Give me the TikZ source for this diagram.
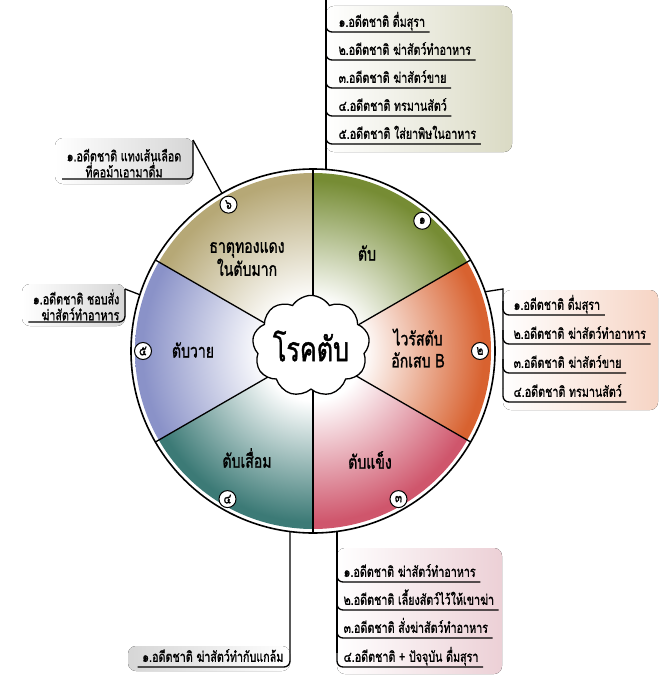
\documentclass[tikz,border=0pt]{standalone}
\usepackage{fontspec}
\newfontfamily\thaifont[Script=Thai,FakeStretch=0.74,FakeBold=1.2]{Loma}
\usetikzlibrary{calc,shapes.symbols}

\definecolor{liver}{RGB}{118,140,52}
\definecolor{virus}{RGB}{216,98,48}
\definecolor{cirrh}{RGB}{207,86,108}
\definecolor{degen}{RGB}{60,122,118}
\definecolor{fail}{RGB}{138,146,200}
\definecolor{copper}{RGB}{182,168,118}
\definecolor{tintA}{RGB}{218,218,196}
\definecolor{tintB}{RGB}{246,212,196}
\definecolor{tintC}{RGB}{236,208,214}
\definecolor{tintD}{RGB}{214,214,214}

\newcommand\itemfont{\fontsize{14.5}{16}\selectfont\thaifont}
\newcommand\segfont{\fontsize{19}{22}\selectfont\thaifont}

\pgfdeclareradialshading[wheel]{wheelfade}{\pgfpoint{0bp}{0bp}}{color(0bp)=(white); color(7bp)=(white); color(24bp)=(wheel); color(50bp)=(wheel)}

\tikzset{
  item/.style={font=\itemfont, inner sep=1pt, text height=10pt, text depth=3.5pt, anchor=south west},
  note/.style={font=\itemfont, inner sep=1pt},
  seglabel/.style={font=\segfont, align=center},
  badge/.style={circle, draw, fill=white, inner sep=0pt, minimum size=17pt, line width=1pt, font=\fontsize{14}{14}\selectfont\thaifont},
  uline/.style={rounded corners=6pt},
}

\begin{document}
\begin{tikzpicture}[x=1pt,y=-1pt,line width=1.3pt]
\useasboundingbox (0,0) rectangle (668,682);
\coordinate (c) at (313,351);

% callout backgrounds
\fill[left color=white, right color=tintA, rounded corners=8pt] (326,6) rectangle (512,152);
\fill[left color=white, right color=tintB, rounded corners=8pt] (503,290) rectangle (658,410);
\fill[left color=white, right color=tintC, rounded corners=8pt] (337,548) rectangle (502,674);
\fill[left color=white, right color=tintD, rounded corners=8pt] (55,138) rectangle (193,184);
\fill[left color=white, right color=tintD, rounded corners=8pt] (22,284) rectangle (125,326);
\fill[left color=tintD, right color=white, rounded corners=8pt] (128,646) rectangle (290,671);

% wheel
\begin{scope}\clip (c) -- ++(-90:182) arc[start angle=-90,end angle=-30,radius=182] -- cycle;
\colorlet{wheel}{liver}\shade[shading=wheelfade] (c) circle (178);\end{scope}
\begin{scope}\clip (c) -- ++(-30:182) arc[start angle=-30,end angle=30,radius=182] -- cycle;
\colorlet{wheel}{virus}\shade[shading=wheelfade] (c) circle (178);\end{scope}
\begin{scope}\clip (c) -- ++(30:182) arc[start angle=30,end angle=90,radius=182] -- cycle;
\colorlet{wheel}{cirrh}\shade[shading=wheelfade] (c) circle (178);\end{scope}
\begin{scope}\clip (c) -- ++(90:182) arc[start angle=90,end angle=150,radius=182] -- cycle;
\colorlet{wheel}{degen}\shade[shading=wheelfade] (c) circle (178);\end{scope}
\begin{scope}\clip (c) -- ++(150:182) arc[start angle=150,end angle=210,radius=182] -- cycle;
\colorlet{wheel}{fail}\shade[shading=wheelfade] (c) circle (178);\end{scope}
\begin{scope}\clip (c) -- ++(210:182) arc[start angle=210,end angle=270,radius=182] -- cycle;
\colorlet{wheel}{copper}\shade[shading=wheelfade] (c) circle (178);\end{scope}

\draw (c) -- ++(-90:182);
\draw (c) -- ++(-30:182);
\draw (c) -- ++(30:182);
\draw (c) -- ++(90:182);
\draw (c) -- ++(150:182);
\draw (c) -- ++(210:182);
\draw[line width=1.6pt] (c) circle (182);

\node[cloud, draw, fill=white, cloud puffs=9, cloud puff arc=115, aspect=1.25, minimum width=104pt, minimum height=86pt, inner sep=0pt, font=\fontsize{34}{34}\selectfont\thaifont] (hub) at (311,346) {โรคตับ};

\node[seglabel] (s1) at (367,253) {ตับ};
\node[seglabel] (s2) at (418,348) {ไวรัสตับ\\อักเสบ B};
\node[seglabel] (s3) at (370,460) {ตับแข็ง};
\node[seglabel] (s4) at (247,458) {ตับเสื่อม};
\node[seglabel] (s5) at (193,350) {ตับวาย};
\node[seglabel] (s6) at (247,259) {ธาตุทองแดง\\ในตับมาก};

\node[badge] (b1) at ($(c)+(-50:170)$) {๑};
\node[badge] (b2) at ($(c)+(0:167)$) {๒};
\node[badge] (b3) at ($(c)+(60:171)$) {๓};
\node[badge] (b4) at ($(c)+(120:171)$) {๔};
\node[badge] (b5) at ($(c)+(180:170)$) {๕};
\node[badge] (b6) at ($(c)+(-120:169)$) {๖};

% top right
\coordinate (trtop) at (326,0);
\coordinate (trfoot) at (326,170);
\node[item] (tr1) at (337,32) {๑.อดีตชาติ ดื่มสุรา};
\node[item] (tr2) at (337,60) {๒.อดีตชาติ ฆ่าสัตว์ทำอาหาร};
\node[item] (tr3) at (337,88) {๓.อดีตชาติ ฆ่าสัตว์ขาย};
\node[item] (tr4) at (337,116) {๔.อดีตชาติ ทรมานสัตว์};
\node[item] (tr5) at (337,144) {๕.อดีตชาติ ใส่ยาพิษในอาหาร};
\draw (trtop) -- (trfoot);
\draw[uline] ($(tr1.south west -| trtop)+(0,-14)$) -- (tr1.south west -| trtop) -- ([xshift=3pt]tr1.south east);
\draw[uline] ($(tr2.south west -| trtop)+(0,-14)$) -- (tr2.south west -| trtop) -- ([xshift=3pt]tr2.south east);
\draw[uline] ($(tr3.south west -| trtop)+(0,-14)$) -- (tr3.south west -| trtop) -- ([xshift=3pt]tr3.south east);
\draw[uline] ($(tr4.south west -| trtop)+(0,-14)$) -- (tr4.south west -| trtop) -- ([xshift=3pt]tr4.south east);
\draw[uline] ($(tr5.south west -| trtop)+(0,-14)$) -- (tr5.south west -| trtop) -- ([xshift=3pt]tr5.south east);

% right
\coordinate (rim2) at ($(c)+(-19:182)$);
\coordinate (rtop) at (503,289);
\node[item] (rt1) at (512,315) {๑.อดีตชาติ ดื่มสุรา};
\node[item] (rt2) at (512,344) {๒.อดีตชาติ ฆ่าสัตว์ทำอาหาร};
\node[item] (rt3) at (512,373) {๓.อดีตชาติ ฆ่าสัตว์ขาย};
\node[item] (rt4) at (512,402) {๔.อดีตชาติ ทรมานสัตว์};
\draw (rim2) -- (rtop) -- ($(rt4.south west -| rtop)+(0,-14)$);
\draw[uline] ($(rt1.south west -| rtop)+(0,-14)$) -- (rt1.south west -| rtop) -- ([xshift=3pt]rt1.south east);
\draw[uline] ($(rt2.south west -| rtop)+(0,-14)$) -- (rt2.south west -| rtop) -- ([xshift=3pt]rt2.south east);
\draw[uline] ($(rt3.south west -| rtop)+(0,-14)$) -- (rt3.south west -| rtop) -- ([xshift=3pt]rt3.south east);
\draw[uline] ($(rt4.south west -| rtop)+(0,-14)$) -- (rt4.south west -| rtop) -- ([xshift=3pt]rt4.south east);

% bottom right
\coordinate (brtop) at (337,531);
\node[item] (br1) at (342,582) {๑.อดีตชาติ ฆ่าสัตว์ทำอาหาร};
\node[item] (br2) at (342,610) {๒.อดีตชาติ เลี้ยงสัตว์ไว้ให้เขาฆ่า};
\node[item] (br3) at (342,638) {๓.อดีตชาติ สั่งฆ่าสัตว์ทำอาหาร};
\node[item] (br4) at (342,667) {๔.อดีตชาติ + ปัจจุบัน ดื่มสุรา};
\draw (brtop) -- ($(br4.south west -| brtop)+(0,-14)$);
\draw[uline] ($(br1.south west -| brtop)+(0,-14)$) -- (br1.south west -| brtop) -- ([xshift=3pt]br1.south east);
\draw[uline] ($(br2.south west -| brtop)+(0,-14)$) -- (br2.south west -| brtop) -- ([xshift=3pt]br2.south east);
\draw[uline] ($(br3.south west -| brtop)+(0,-14)$) -- (br3.south west -| brtop) -- ([xshift=3pt]br3.south east);
\draw[uline] ($(br4.south west -| brtop)+(0,-14)$) -- (br4.south west -| brtop) -- ([xshift=3pt]br4.south east);

% bottom left
\coordinate (bltop) at (290,531);
\node[item, anchor=south east] (bl1) at (285,667) {๑.อดีตชาติ ฆ่าสัตว์ทำกับแกล้ม};
\draw[uline] (bltop) -- (bl1.south east -| bltop) -- ([xshift=-3pt]bl1.south west);

% top left
\coordinate (rim6) at ($(c)+(-120:182)$);
\coordinate (tlc) at (193,140);
\node[note, anchor=south, align=center] (tl1) at (124,179) {๑.อดีตชาติ แทงเส้นเลือด\\ที่คอม้าเอามาดื่ม};
\draw (rim6) -- (tlc);
\draw[uline] (tlc) -- (tlc |- tl1.south) -- ([xshift=-3pt]tl1.south west);

% left
\coordinate (rim5) at ($(c)+(198:182)$);
\coordinate (lc) at (125,289);
\node[note, anchor=south east, align=right] (l1) at (121,322) {๑.อดีตชาติ ชอบสั่ง\\ฆ่าสัตว์ทำอาหาร};
\draw (rim5) -- (lc);
\draw[uline] (lc) -- (lc |- l1.south) -- ([xshift=-3pt]l1.south west);
\end{tikzpicture}
\end{document}
